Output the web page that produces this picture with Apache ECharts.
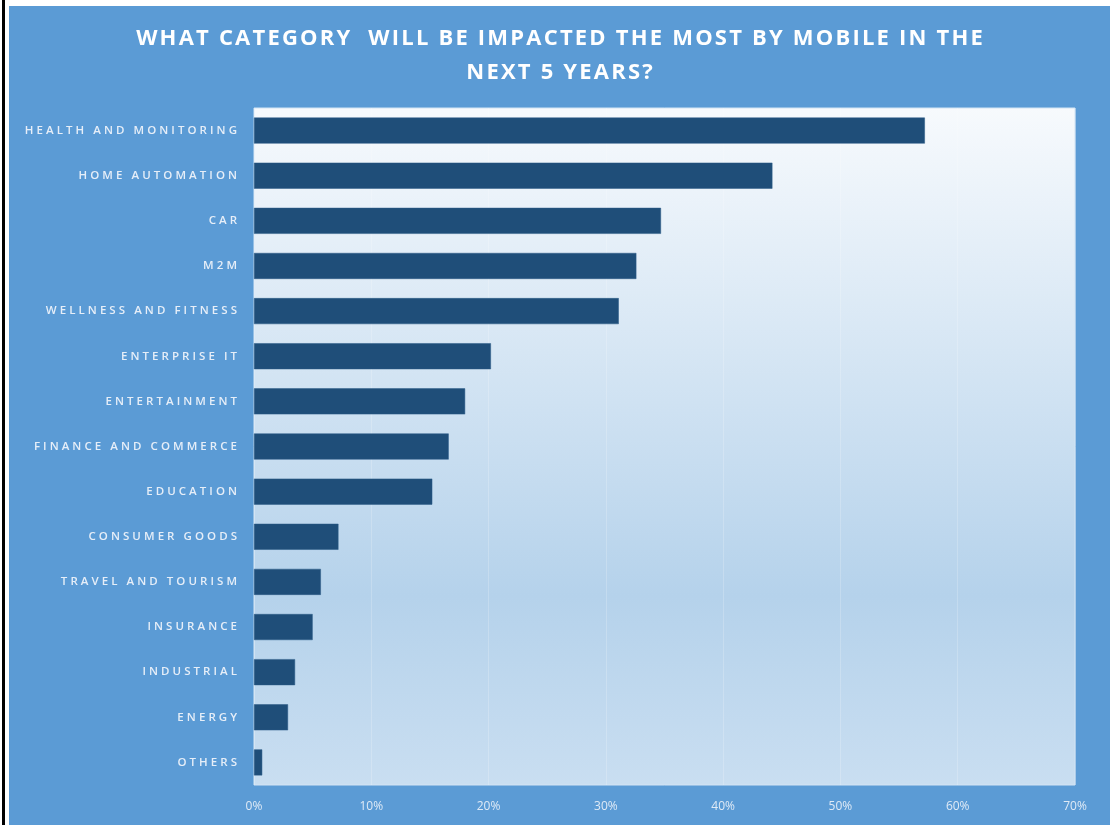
<!DOCTYPE html>
<html>
<head>
<meta charset="utf-8">
<script src="https://cdn.jsdelivr.net/npm/echarts@6/dist/echarts.min.js"></script>
<style>
  html, body { margin: 0; padding: 0; background: #ffffff; width: 1116px; height: 825px; overflow: hidden; }
  #rule { position: absolute; left: 2px; top: 0; width: 3px; height: 825px; background: #000; }
  #chart { position: absolute; left: 9px; top: 6px; width: 1101px; height: 819px; }
</style>
</head>
<body>
<div id="rule"></div>
<div id="chart"></div>
<script>
// Survey categories, top to bottom
const categories = [
  'HEALTH AND MONITORING', 'HOME AUTOMATION', 'CAR', 'M2M', 'WELLNESS AND FITNESS',
  'ENTERPRISE IT', 'ENTERTAINMENT', 'FINANCE AND COMMERCE', 'EDUCATION', 'CONSUMER GOODS',
  'TRAVEL AND TOURISM', 'INSURANCE', 'INDUSTRIAL', 'ENERGY', 'OTHERS'
];
// Share of respondents (%)
const shares = [57.2, 44.2, 34.7, 32.6, 31.1, 20.2, 18.0, 16.6, 15.2, 7.2, 5.7, 5.0, 3.5, 2.9, 0.7];
// Axis tick range (%)
const xTicks = { min: 0, max: 70, step: 10 };

const titleLines = ['WHAT CATEGORY  WILL BE IMPACTED THE MOST BY MOBILE IN THE', 'NEXT 5 YEARS?'];

// spread letters apart with narrow spaces
const spread = (s, gap) => s.split('').join(gap);

const chart = echarts.init(document.getElementById('chart'));
chart.setOption({
  backgroundColor: '#5b9bd5',
  animation: false,
  title: {
    text: titleLines.map(l => spread(l, '\u200A')).join('\n'),
    left: 'center',
    top: 11,
    textStyle: {
      color: '#ffffff',
      fontFamily: 'Open Sans',
      fontWeight: 'bold',
      fontSize: 22,
      lineHeight: 34
    }
  },
  grid: {
    left: 245, right: 35, top: 102, bottom: 40,
    show: true,
    borderColor: '#d3e4f4',
    borderWidth: 1,
    backgroundColor: new echarts.graphic.LinearGradient(0, 0, 0, 1, [
      { offset: 0, color: '#f7fafd' },
      { offset: 0.72, color: '#b5d2eb' },
      { offset: 1, color: '#c9def1' }
    ])
  },
  xAxis: {
    type: 'value',
    min: xTicks.min, max: xTicks.max, interval: xTicks.step,
    axisLine: { show: false },
    axisTick: { show: false },
    axisLabel: {
      formatter: '{value}%',
      color: '#dfeaf6',
      fontFamily: 'Open Sans',
      fontSize: 12,
      margin: 16
    },
    splitLine: { show: true, lineStyle: { color: 'rgba(255,255,255,0.2)', width: 1 } }
  },
  yAxis: {
    type: 'category',
    data: categories,
    inverse: true,
    axisLine: { show: false },
    axisTick: { show: false },
    axisLabel: {
      formatter: v => spread(v, '\u2009\u200A'),
      color: '#e6eef8',
      fontFamily: 'Open Sans',
      fontWeight: 600,
      fontSize: 11.5,
      margin: 17
    }
  },
  series: [{
    type: 'bar',
    data: shares,
    barWidth: 26,
    itemStyle: { color: '#1f4e79', borderColor: '#2a5a86', borderWidth: 0.5 }
  }]
});
</script>
</body>
</html>
